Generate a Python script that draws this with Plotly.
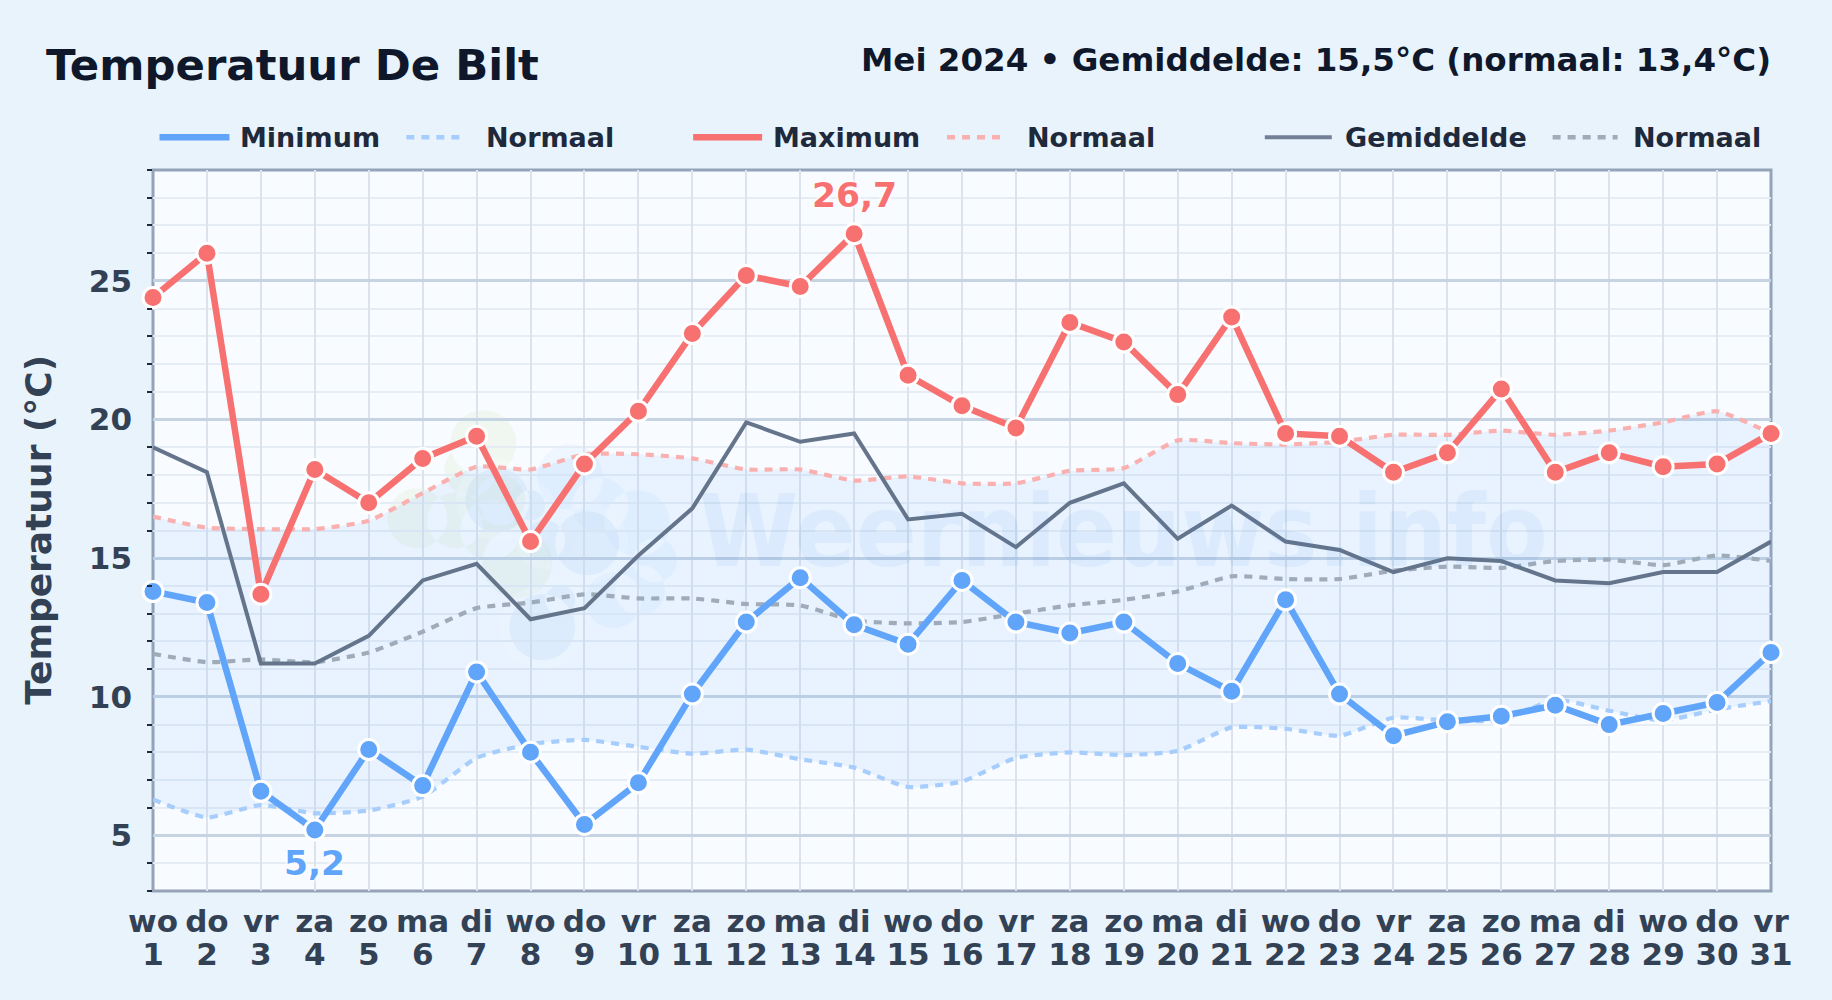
import math
import plotly.graph_objects as go

days = list(range(1, 32))
weekdays = ["wo","do","vr","za","zo","ma","di","wo","do","vr","za","zo","ma","di","wo","do","vr","za","zo","ma","di","wo","do","vr","za","zo","ma","di","wo","do","vr"]
t_max = [24.4,26.0,13.7,18.2,17.0,18.6,19.4,15.6,18.4,20.3,23.1,25.2,24.8,26.7,21.6,20.5,19.7,23.5,22.8,20.9,23.7,19.5,19.4,18.1,18.8,21.1,18.1,18.8,18.3,18.4,19.5]
t_min = [13.8,13.4,6.6,5.2,8.1,6.8,10.9,8.0,5.4,6.9,10.1,12.7,14.3,12.6,11.9,14.2,12.7,12.3,12.7,11.2,10.2,13.5,10.1,8.6,9.1,9.3,9.7,9.0,9.4,9.8,11.6]
t_mean = [19.0,18.1,11.2,11.2,12.2,14.2,14.8,12.8,13.2,15.1,16.8,19.9,19.2,19.5,16.4,16.6,15.4,17.0,17.7,15.7,16.9,15.6,15.3,14.5,15.0,14.9,14.2,14.1,14.5,14.5,15.6]
n_max = [16.5,16.1,16.05,16.05,16.35,17.35,18.3,18.2,18.75,18.75,18.6,18.2,18.2,17.8,17.95,17.7,17.7,18.15,18.25,19.25,19.15,19.1,19.2,19.45,19.45,19.6,19.45,19.6,19.9,20.3,19.5]
n_min = [6.3,5.65,6.1,5.8,5.9,6.4,7.8,8.3,8.45,8.2,7.95,8.1,7.75,7.45,6.75,6.95,7.8,8.0,7.9,8.05,8.9,8.85,8.6,9.25,9.15,9.15,9.9,9.5,9.15,9.55,9.85]
n_mean = [11.55,11.25,11.35,11.25,11.6,12.35,13.2,13.4,13.7,13.55,13.55,13.35,13.3,12.75,12.65,12.7,13.0,13.3,13.5,13.8,14.35,14.25,14.25,14.55,14.7,14.65,14.9,14.95,14.75,15.1,14.9]

W, H = 1832, 1000
L, R, T, B = 152.5, 1771.5, 169.8, 890.8
FONT = "DejaVu Sans"
PAPER = "#e8f3fc"
C_MIN, C_MAX, C_MEAN = "#60a5fa", "#f87171", "#64748b"
C_NMIN, C_NMAX, C_NMEAN = "#a6cdfb", "#fbb0b0", "#a0abba"
INK, LEG, TICK = "#0f172a", "#1e293b", "#334155"
DASH = "8px,7px"

def fx(x): return (x - L) / (R - L)
def fy(y): return (B - y) / (B - T)

fig = go.Figure()

# band between the normal min and normal max
hidden = dict(color="rgba(0,0,0,0)", width=0, shape="spline", smoothing=0.5)
fig.add_trace(go.Scatter(x=days, y=n_min, mode="lines", line=hidden, showlegend=False, hoverinfo="skip"))
fig.add_trace(go.Scatter(x=days, y=n_max, mode="lines", line=hidden, fill="tonexty", fillcolor="rgba(70,160,250,0.085)", showlegend=False, hoverinfo="skip"))

def dashed(y, c, name):
    fig.add_trace(go.Scatter(x=days, y=y, mode="lines", name=name, showlegend=False, cliponaxis=False,
                             line=dict(color=c, width=4.2, dash=DASH, shape="spline", smoothing=0.5)))

def solid(y, c, name):
    fig.add_trace(go.Scatter(x=days, y=y, mode="lines+markers", name=name, showlegend=False, cliponaxis=False,
                             line=dict(color=c, width=6.5),
                             marker=dict(size=20, color=c, line=dict(color="white", width=3))))

dashed(n_min, C_NMIN, "Normaal")
dashed(n_max, C_NMAX, "Normaal")
dashed(n_mean, C_NMEAN, "Normaal")
fig.add_trace(go.Scatter(x=days, y=t_mean, mode="lines", name="Gemiddelde", showlegend=False, line=dict(color=C_MEAN, width=4)))
solid(t_min, C_MIN, "Minimum")
solid(t_max, C_MAX, "Maximum")

# holder trace for the second row of x tick labels
fig.add_trace(go.Scatter(x=days, y=t_mean, xaxis="x2", mode="none", showlegend=False, hoverinfo="skip"))

axis_common = dict(range=[1, 31], tickmode="array", tickvals=days, tickfont=dict(family=FONT, size=31, color=TICK, weight="bold"), ticks="")
fig.update_layout(
    width=W, height=H, autosize=False,
    margin=dict(l=L, r=W - R, t=T, b=H - B, pad=0),
    paper_bgcolor=PAPER, plot_bgcolor="#f8fbff",
    font=dict(family=FONT, color=TICK),
    hovermode="closest",
    xaxis=dict(**axis_common, ticktext=weekdays, ticklabelstandoff=9, showgrid=True, gridcolor="#dce3ed", gridwidth=2,
               showline=False, zeroline=False),
    xaxis2=dict(**axis_common, ticktext=[str(d) for d in days], ticklabelstandoff=42, overlaying="x", anchor="y", side="bottom",
                showgrid=False, zeroline=False, showline=False),
    yaxis=dict(range=[3, 29], tick0=5, dtick=5, ticks="", showgrid=True, gridcolor="#c6d3e3", gridwidth=2.5,
               tickfont=dict(family=FONT, size=31, color=TICK, weight="bold"), ticklabelstandoff=20,
               showline=False, zeroline=False,
               minor=dict(dtick=1, tick0=3, showgrid=True, gridcolor="#e6ecf3", gridwidth=2, ticks="outside", ticklen=5, tickwidth=1.5, tickcolor="#1e293b")),
)

# watermark logo, as blobs at page pixel positions
green = [(483,443,33),(470,470,26),(417,518,30),(455,520,28),(490,530,30),(517,563,35),(500,500,25)]
light = [(570,477,33),(600,505,28),(637,523,33),(655,560,22),(613,600,28),(640,590,25)]
dark = [(497,500,32),(530,505,15),(587,543,32),(545,540,20),(542,627,33),(560,600,15)]
shapes = []
def add_group(items, color, grow=0):
    parts = []
    for cx, cy, r in items:
        pts = [(fx(cx + (r+grow)*math.cos(i*math.pi/18)), fy(cy + (r+grow)*math.sin(i*math.pi/18))) for i in range(36)]
        parts.append("M " + " L ".join(f"{a:.5f},{b:.5f}" for a, b in pts) + " Z")
    shapes.append(dict(type="path", xref="paper", yref="paper", layer="below", path=" ".join(parts), fillcolor=color, line=dict(width=0)))

add_group(green, "rgba(200,230,170,0.16)")
add_group(light, "rgba(125,190,250,0.08)")
add_group(dark, "rgba(255,255,255,0.25)", grow=9)
add_group(dark, "rgba(80,140,215,0.08)")

# plot frame, centred on the plot edges
shapes.append(dict(type="rect", xref="paper", yref="paper", x0=0, x1=1, y0=0, y1=1, layer="below", line=dict(color="#94a3b8", width=3)))

def leg_line(x0, x1, c, w, dash=None):
    shapes.append(dict(type="line", xref="paper", yref="paper", x0=fx(x0), x1=fx(x1), y0=fy(137), y1=fy(137),
                       line=dict(color=c, width=w, dash=dash or "solid")))

leg_line(159, 229, C_MIN, 6.5)
leg_line(406, 464, C_NMIN, 4.5, DASH)
leg_line(693, 762, C_MAX, 6.5)
leg_line(947, 1005, C_NMAX, 4.5, DASH)
leg_line(1265, 1332, "#718096", 4)
leg_line(1553, 1618, C_NMEAN, 4.5, DASH)
fig.update_layout(shapes=shapes)

def text(x, y, s, size, color, anchor="left"):
    fig.add_annotation(xref="paper", yref="paper", x=fx(x), y=fy(y), text=s, showarrow=False, xanchor=anchor, yanchor="middle",
                       font=dict(family=FONT, size=size, color=color, weight="bold"), borderpad=0, borderwidth=0)

text(45, 65, "Temperatuur De Bilt", 43.4, INK)
text(1771, 60, "Mei 2024 • Gemiddelde: 15,5°C (normaal: 13,4°C)", 32.5, INK, anchor="right")
for x, s in [(240, "Minimum"), (486, "Normaal"), (773, "Maximum"), (1027, "Normaal"), (1345, "Gemiddelde"), (1633, "Normaal")]:
    text(x, 137, s, 27, LEG)
fig.add_annotation(xref="paper", yref="paper", x=fx(1124), y=fy(531), text="Weernieuws.info", showarrow=False, xanchor="center", yanchor="middle",
                   font=dict(family="DejaVu Sans Condensed, DejaVu Sans", size=100, color="rgba(70,140,220,0.075)", weight="bold"))
fig.add_annotation(xref="paper", yref="paper", x=fx(38), y=fy(530), text="Temperatuur (°C)", textangle=-90, showarrow=False, xanchor="center", yanchor="middle",
                   font=dict(family=FONT, size=36, color=TICK, weight="bold"))

# extreme labels
i_hi = t_max.index(max(t_max))
i_lo = t_min.index(min(t_min))
halo = "0 0 4px #fff, 0 0 4px #fff, 0 0 4px #fff"
fig.add_annotation(x=days[i_hi], y=t_max[i_hi], text=str(t_max[i_hi]).replace(".", ","), showarrow=False, yshift=39, yanchor="middle",
                   font=dict(family=FONT, size=34.5, color=C_MAX, weight="bold", shadow=halo))
fig.add_annotation(x=days[i_lo], y=t_min[i_lo], text=str(t_min[i_lo]).replace(".", ","), showarrow=False, yshift=-33, yanchor="middle",
                   font=dict(family=FONT, size=34.5, color=C_MIN, weight="bold", shadow=halo))

fig.write_html("out.html", config=dict(displayModeBar=False),
               post_script="document.body.style.margin='0';document.body.style.background='" + PAPER + "';")
